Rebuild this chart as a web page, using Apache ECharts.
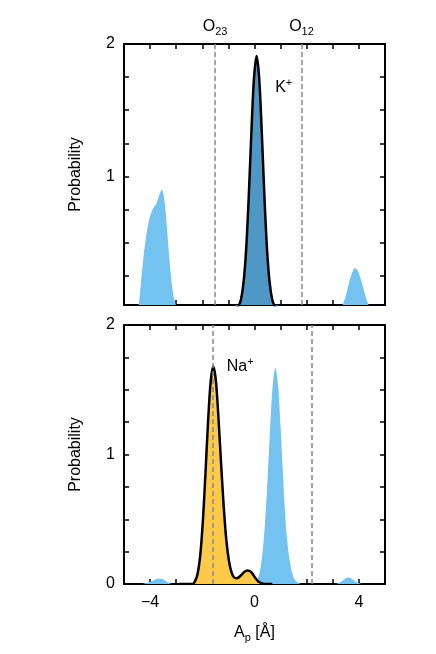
<!DOCTYPE html>
<html><head><meta charset="utf-8">
<script src="https://cdn.jsdelivr.net/npm/echarts@6/dist/echarts.min.js"></script>
<style>html,body{margin:0;padding:0;background:#fff}#c{width:436px;height:654px}</style>
</head><body><div id="c"></div>
<script>
// ---------- data ----------
const xTicks = [-5,-4,-3,-2,-1,0,1,2,3,4,5];
const xTickLabels = [-4, 0, 4];
const yTicks = [0,0.25,0.5,0.75,1,1.25,1.5,1.75,2];
const yLabelsTop = [1, 2];
const yLabelsBottom = [0, 1, 2];

// top panel: K+ (dark) and other ion (light blue)
const kX = [-0.72,-0.62,-0.52,-0.42,-0.32,-0.22,-0.12,-0.02,0.08,0.18,0.28,0.38,0.48,0.58,0.68,0.78,0.88];
const kY = [0,0.02,0.07,0.2,0.45,0.85,1.33,1.74,1.91,1.74,1.33,0.85,0.45,0.2,0.07,0.02,0];
const topBlueX = [-4.55,-4.45,-4.35,-4.25,-4.15,-4.05,-3.95,-3.85,-3.75,-3.65,-3.55,-3.45,-3.35,-3.25,-3.15,-3.05,-2.95,-2.85,
                  3.25,3.35,3.45,3.55,3.65,3.75,3.85,3.95,4.05,4.15,4.25,4.35,4.45,4.55];
const topBlueY = [0,0.02,0.2,0.4,0.55,0.66,0.73,0.77,0.8,0.86,0.9,0.82,0.6,0.35,0.16,0.05,0.01,0,
                  0,0.02,0.07,0.14,0.22,0.28,0.31,0.29,0.24,0.17,0.1,0.04,0.01,0];

// bottom panel: Na+ (yellow) and other ion (light blue)
const naX = [-2.9,-2.38,-2.28,-2.18,-2.08,-1.98,-1.88,-1.78,-1.68,-1.58,-1.48,-1.38,-1.28,-1.18,-1.08,-0.98,-0.88,-0.78,-0.68,-0.58,-0.48,-0.38,-0.28,-0.18,-0.08,0.02,0.12,0.22,0.32,0.42,0.68];
const naY = [0,0,0.02,0.08,0.22,0.48,0.85,1.25,1.56,1.68,1.57,1.28,0.93,0.6,0.34,0.18,0.09,0.05,0.045,0.055,0.075,0.095,0.105,0.1,0.08,0.05,0.025,0.01,0.003,0,0];
const botBlueX = [-4.3,-4.1,-3.9,-3.7,-3.5,-3.3,-3.1,
                  -0.1,0.0,0.1,0.2,0.3,0.4,0.5,0.6,0.7,0.8,0.9,1.0,1.1,1.2,1.3,1.4,1.5,1.6,1.7,1.8,
                  3.1,3.3,3.5,3.6,3.7,3.9,4.1];
const botBlueY = [0,0.01,0.025,0.04,0.035,0.01,0,
                  0,0.01,0.03,0.09,0.23,0.46,0.81,1.21,1.54,1.67,1.54,1.21,0.81,0.46,0.25,0.12,0.05,0.02,0.008,0,
                  0,0.015,0.045,0.05,0.045,0.015,0];

const dashTop = [-1.51, 1.8];
const dashTopLabels = ['23', '12'];
const dashBottom = [-1.6, 2.2];
const kLabelPos = [1.12, 1.67];
const naLabelPos = [-0.55, 1.68];

// ---------- chart ----------
const FONT = "'Liberation Sans', Arial, Helvetica, sans-serif";
const FS = 16, FSS = 11;
const zip = (a, b) => a.map((v, i) => [v, b[i]]);
const C_LIGHT = '#74c2f0', C_DARK = '#4f97c5', C_YEL = '#fdc94a';

function xAx(grid, pos, labels, name) {
  return {
    type: 'value', gridIndex: grid, position: pos, min: -5, max: 5, interval: 1,
    axisLine: { show: true, onZero: false, lineStyle: { color: '#000', width: 2 } },
    axisTick: { show: true, inside: true, length: 5, customValues: xTicks, lineStyle: { color: '#000', width: 1.5 } },
    axisLabel: labels ? { show: true, customValues: xTickLabels, margin: 11, fontSize: FS, color: '#000', fontFamily: FONT,
      formatter: v => v < 0 ? '\u2212' + (-v) : String(v) } : { show: false },
    splitLine: { show: false },
    name: name || '', nameLocation: 'middle', nameGap: 38,
    nameTextStyle: name ? { fontSize: FS, color: '#000', fontFamily: FONT,
      rich: { m: { fontSize: FS, fontFamily: FONT, color: '#000' }, s: { fontSize: FSS, fontFamily: FONT, color: '#000', padding: [10, 0, 0, 0] } } } : {}
  };
}
function yAx(grid, pos, min, labels, showName) {
  return {
    type: 'value', gridIndex: grid, position: pos, min: min, max: 2,
    axisLine: { show: true, onZero: false, lineStyle: { color: '#000', width: 2 } },
    axisTick: { show: true, inside: true, length: 5, customValues: yTicks.filter(v => v >= min), lineStyle: { color: '#000', width: 1.5 } },
    axisLabel: labels ? { show: true, customValues: labels, margin: 9, fontSize: FS, color: '#000', fontFamily: FONT } : { show: false },
    splitLine: { show: false },
    name: showName ? 'Probability' : '', nameLocation: 'middle', nameGap: 40,
    nameTextStyle: { fontSize: FS, color: '#000', fontFamily: FONT }
  };
}

const dashStyle = { color: '#888', width: 1.5, type: [5, 3] };

const option = {
  animation: false,
  backgroundColor: '#fff',
  grid: [
    { left: 124, top: 44, width: 261, height: 261 },
    { left: 124, top: 325, width: 261, height: 259 }
  ],
  xAxis: [
    xAx(0, 'bottom', false),
    xAx(0, 'top', false),
    xAx(1, 'bottom', true, '{m|A}{s|p}{m| [Å]}'),
    xAx(1, 'top', false)
  ],
  yAxis: [
    yAx(0, 'left', 0.03, yLabelsTop, true),
    yAx(0, 'right', 0.03, null, false),
    yAx(1, 'left', 0, yLabelsBottom, true),
    yAx(1, 'right', 0, null, false)
  ],
  series: [
    {
      type: 'line', xAxisIndex: 0, yAxisIndex: 0, data: zip(topBlueX, topBlueY), smooth: 0.3,
      showSymbol: false, lineStyle: { width: 0 }, areaStyle: { color: C_LIGHT, opacity: 1 }, silent: true,
      markLine: {
        symbol: 'none', silent: true, lineStyle: dashStyle,
        label: { show: true, position: 'end', distance: 7, fontFamily: FONT, color: '#000',
          formatter: p => '{m|O}{s|' + dashTopLabels[p.dataIndex] + '}',
          rich: { m: { fontSize: FS, fontFamily: FONT, color: '#000' }, s: { fontSize: FSS, fontFamily: FONT, color: '#000', padding: [10, 0, 0, 0] } } },
        data: dashTop.map(v => ({ xAxis: v }))
      }
    },
    {
      type: 'line', xAxisIndex: 0, yAxisIndex: 0, data: zip(kX, kY), smooth: 0.3,
      showSymbol: false, lineStyle: { width: 2.5, color: '#000' }, areaStyle: { color: C_DARK, opacity: 1 }, silent: true,
      markPoint: {
        symbol: 'circle', symbolSize: 0, silent: true,
        label: { show: true, position: 'inside', formatter: '{m|K}{p|+}',
          rich: { m: { fontSize: FS, fontFamily: FONT, color: '#000' }, p: { fontSize: FSS, fontFamily: FONT, color: '#000', padding: [0, 0, 9, 0] } } },
        data: [{ coord: kLabelPos }]
      }
    },
    {
      type: 'line', xAxisIndex: 2, yAxisIndex: 2, data: zip(botBlueX, botBlueY), smooth: 0.3,
      showSymbol: false, lineStyle: { width: 0 }, areaStyle: { color: C_LIGHT, opacity: 1 }, silent: true,
      markLine: { symbol: 'none', silent: true, lineStyle: dashStyle, label: { show: false },
        data: dashBottom.map(v => ({ xAxis: v })) }
    },
    {
      type: 'line', xAxisIndex: 2, yAxisIndex: 2, data: zip(naX, naY), smooth: 0.3,
      showSymbol: false, lineStyle: { width: 2.5, color: '#000' }, areaStyle: { color: C_YEL, opacity: 1 }, silent: true,
      markPoint: {
        symbol: 'circle', symbolSize: 0, silent: true,
        label: { show: true, position: 'inside', formatter: '{m|Na}{p|+}',
          rich: { m: { fontSize: FS, fontFamily: FONT, color: '#000' }, p: { fontSize: FSS, fontFamily: FONT, color: '#000', padding: [0, 0, 9, 0] } } },
        data: [{ coord: naLabelPos }]
      }
    }
  ]
};
const chart = echarts.init(document.getElementById('c'), null, { renderer: 'canvas' });
chart.setOption(option);
</script></body></html>
